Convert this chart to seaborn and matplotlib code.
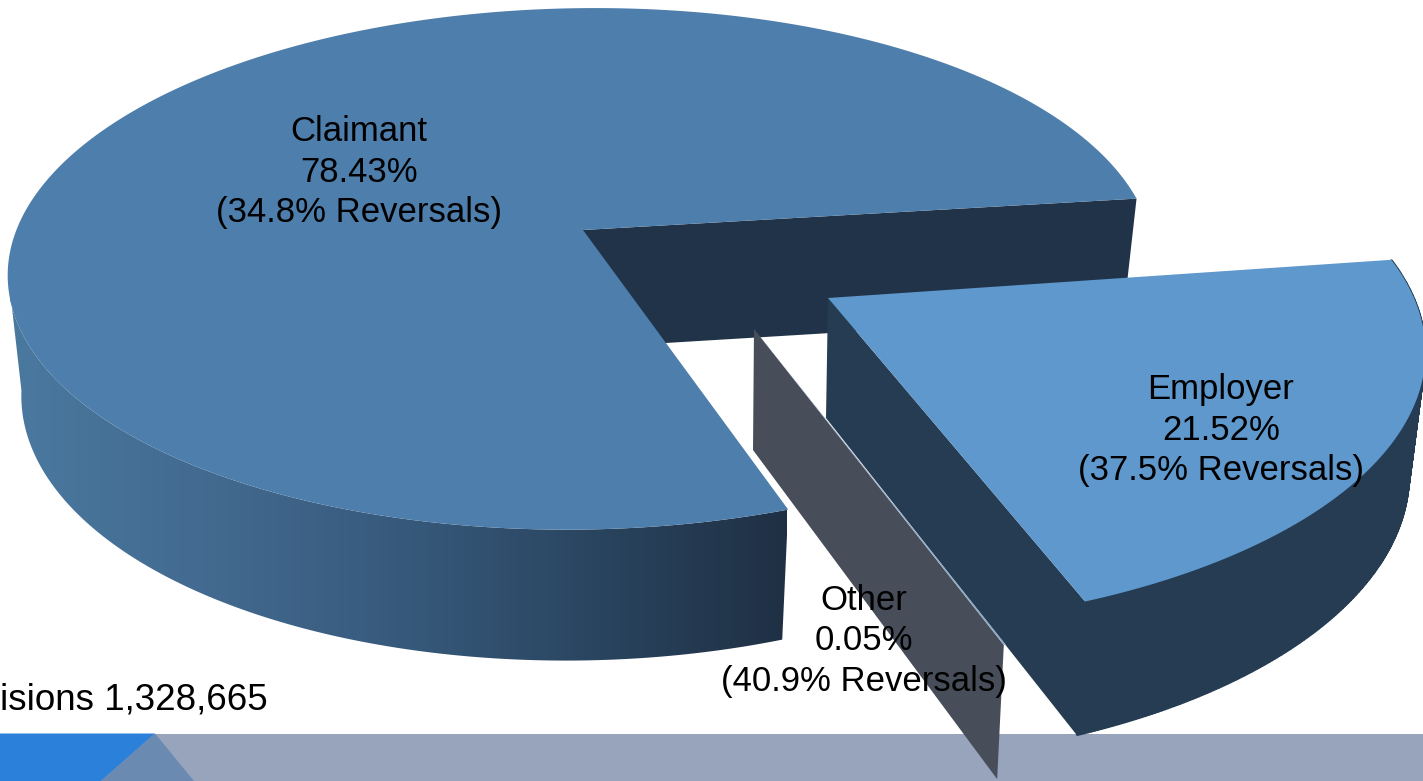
import numpy as np
import matplotlib
matplotlib.use("Agg")
import matplotlib.pyplot as plt
from matplotlib.patches import Polygon
import seaborn as sns

# Share of decisions by appellant type, with the reversal rate of each
appellants = ["Claimant", "Employer", "Other"]
shares = [78.43, 21.52, 0.05]
reversals = [34.8, 37.5, 40.9]
footnote = "isions 1,328,665"

sns.set_theme(style="white")
plt.rcParams["font.family"] = ["Liberation Sans", "DejaVu Sans"]

W, H = 1423, 781
fig = plt.figure(figsize=(W / 100, H / 100), dpi=100, facecolor="white")
ax = fig.add_axes([0, 0, 1, 1])
ax.set_xlim(0, W)
ax.set_ylim(H, 0)
ax.axis("off")

TOP_CLAIMANT, TOP_EMPLOYER, TOP_OTHER = "#4E7EAB", "#5F98CD", "#8FA9C4"
WALL_EMPLOYER, WALL_OTHER, WALL_INNER = "#253C53", "#474E5A", "#213348"
wall_ramp = sns.blend_palette(["#4A799F", "#436A90", "#375A7C", "#2A4560", "#1F3044"], 256)


def project(theta, cx, cy, rx, ry, k, shear=0.0):
    """Perspective projection of a unit-circle angle (degrees) to canvas pixels."""
    t = np.radians(np.atleast_1d(theta))
    w = 1 + k * np.sin(t)
    dy = -ry * np.sin(t) / w
    return np.column_stack([cx + rx * np.cos(t) / w + shear * dy, cy + dy])


def poly(pts, color, z):
    patch = Polygon(pts, closed=True, facecolor=color, edgecolor="none", linewidth=0, zorder=z)
    ax.add_patch(patch)
    return patch


def rim(theta, top, bottom, color, z):
    """Outer rim of a slice as overlapping quads, so the side silhouette stays straight."""
    a, b = project(theta, *top), project(theta, *bottom)
    for i in range(len(theta) - 1):
        ax.add_patch(Polygon([a[i], a[i + 1], b[i + 1], b[i]], closed=True, facecolor=color,
                             edgecolor=color, linewidth=1.2, zorder=z))


def hub(params):
    return [[params[0], params[1]]]


# Slice angles follow directly from the shares, running anticlockwise
spans = [s * 3.6 for s in shares]
start = 7.2
claimant_theta = np.linspace(start, start + spans[0], 700)
employer_end = 8.5
employer_theta = np.linspace(employer_end - spans[1], employer_end, 240)
other_start = employer_end - spans[1] - spans[2]
other_theta = np.linspace(other_start, other_start + spans[2], 2)

# Background band along the bottom edge
poly([(0, 733.5), (W, 733.5), (W, H), (0, H)], "#98A4BC", 1)
poly([(0, 733.5), (155, 733.5), (101, H), (0, H)], "#2B80DA", 1.1)
poly([(155, 733.5), (194, H), (101, H)], "#6B8AB2", 1.1)

# Claimant slice
c_top = (583, 230, 566.6, 255, 0.149, -0.055)
c_bot = (583, 348, 553, 266, 0.149, -0.055)
poly(np.vstack([project(start, *c_top), project(start, *c_bot), hub(c_bot), hub(c_top)]),
     WALL_INNER, 2)

# The front rim shades from mid blue on the left to near navy at the cut edge
front = claimant_theta[claimant_theta >= 188.6]
rim_outline = Polygon(np.vstack([project(front, *c_top), project(front[::-1], *c_bot)]),
                      closed=True, transform=ax.transData)
shade = ax.imshow(np.array(wall_ramp)[None, :, :], extent=(10, 787, 700, 250), aspect="auto",
                  interpolation="bilinear", zorder=2.1)
shade.set_clip_path(rim_outline)
ax.set_xlim(0, W)
ax.set_ylim(H, 0)
poly(np.vstack([hub(c_top), project(claimant_theta, *c_top)]), TOP_CLAIMANT, 3)

# Employer slice, pulled out of the pie
e_top = (828, 298, 586, 266, 0.195)
e_bot = (826, 418, 572, 278, 0.195)
first = employer_theta[0]
poly(np.vstack([hub(e_top), project(first, *e_top), project(first, *e_bot), hub(e_bot)]),
     WALL_EMPLOYER, 4)
rim(employer_theta, e_top, e_bot, WALL_EMPLOYER, 4)
poly(np.vstack([hub(e_top), project(employer_theta, *e_top)]), TOP_EMPLOYER, 5)

# Other slice: almost nothing but its cut face shows at this share
o_top = (754, 329, 574, 276.5, 0.195)
o_bot = (753, 450, 561, 288, 0.195)
edge = other_theta[0]
poly(np.vstack([hub(o_top), project(edge, *o_top), project(edge, *o_bot), hub(o_bot)]),
     WALL_OTHER, 6)
poly(np.vstack([hub(o_top), project(other_theta, *o_top)]), TOP_OTHER, 6.1)

# Slice labels
anchors = [(359, 172), (1221, 430), (864, 641)]
for name, share, rev, (x, y) in zip(appellants, shares, reversals, anchors):
    ax.text(x, y, f"{name}\n{share:.2f}%\n({rev}% Reversals)", ha="center", va="center",
            fontsize=25, color="black", linespacing=1.3, zorder=10)

ax.text(0, 700, footnote, ha="left", va="center", fontsize=26.5, color="black", zorder=10)

fig.savefig("out.png", dpi=100, facecolor="white")
